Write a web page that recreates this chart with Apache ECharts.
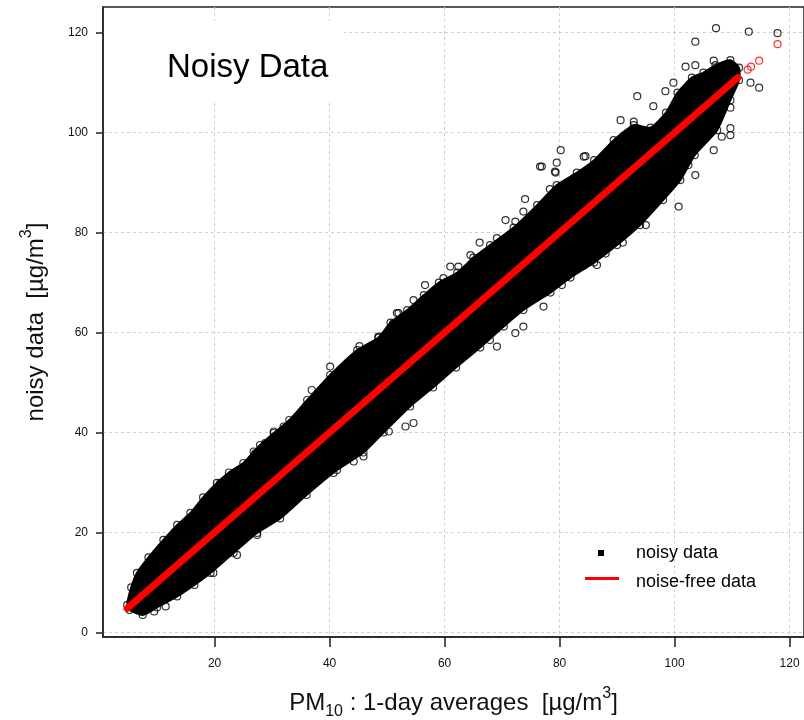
<!DOCTYPE html>
<html><head><meta charset="utf-8">
<script src="https://cdn.jsdelivr.net/npm/echarts@6/dist/echarts.min.js"></script>
<style>html,body{margin:0;padding:0;background:#fff}#c{width:804px;height:720px}</style>
</head><body><div id="c"></div>
<script>
// ---- data ----
const xTicks = [20, 40, 60, 80, 100, 120];
const yTicks = [0, 20, 40, 60, 80, 100, 120];

// outline of the solid, densely packed part of the noisy-data cloud
const cloudUpper = [[4.8,5.5],[5.5,9],[6.5,11.9],[8.5,15],[11.1,18.5],[13.5,21.5],[15.8,23.9],[18,27],[20.4,29.9],[22.5,32],[25,33.9],[27.9,37.5],[30.3,39.9],[33,42.5],[36.1,46.5],[40.1,51.5],[44.8,56.5],[48.5,59],[50.6,62],[53.5,64.5],[56.4,67.5],[59,70],[62.2,72],[65,75],[67.9,77.5],[72,81],[76.1,85.5],[79.5,89.5],[83,92],[86,94.5],[89.4,98.5],[92.9,101.5],[95.8,101],[98.5,104],[100.5,108],[103,111],[105,112],[107.1,113.5],[109.7,114.5],[111.2,113]];
const cloudLower = [[5.2,4.5],[7.5,3.5],[10,5],[13.5,7.2],[16.5,9.5],[19.3,11.9],[23.3,15.9],[27.4,19.9],[31.4,22.8],[36,27.5],[41.3,32.5],[45.9,36],[49.4,40],[54,45.2],[58,49],[62,53],[66.2,57],[70.3,61.2],[73.7,64.5],[78.4,68],[81.9,71],[86,74],[90,77.5],[94,81.5],[98,86.5],[101,90.5],[103.5,95.5],[107.4,100.5],[109.7,106.5],[111.2,110.5]];

// individual noisy points lying outside the solid cloud
const noisyOutliers = [[19.8,11.9],[23.9,15.5],[27.4,19.5],[21,29.9],[26.8,36.2],[28.8,37.9],[9.5,4.2],[11.5,5.2],
 [27.1,35.9],[30.3,40.2],[32,41.2],[36.9,48.5],[40.1,53.2],[43,53.2],[43.9,54.5],[45.2,57.3],[48.5,59.2],[51.1,61.9],[52,63.9],[54.6,66.5],
 [40.7,31.9],[44.2,34.2],[45.9,35.2],[50.3,40.2],[53.2,41.2],[54.6,41.9],
 [51.7,63.9],[56.6,69.5],[59.8,70.9],[61,73.2],[62.4,73.2],[64.5,75.5],[66.1,78],[69.1,78.9],[70.6,82.5],[72.3,82.2],[73.7,84.2],[74,86.7],[76.6,93.2],[79.5,94],[79.3,92],[78.3,88.7],
 [66.2,58.2],[67.9,58.5],[69.1,57.2],[72.3,59.9],[73.7,61.2],[77.2,65.2],[80.4,69.5],[81.3,71.2],
 [93.5,107.3],[96.3,105.3],[98.4,108.3],[99.8,110],[101.9,113.2],[103.6,113.5],[103.6,118.2],[106.8,114.4],[80.2,96.5],[84.2,95.2],[76.9,93.2],[79.2,92.2],[90.6,102.5],[92.9,102.2],[100.7,85.2],[103.6,91.5],[97.5,89.9],[99.3,90.9],[97.5,91.2],[90.6,87.2],[92,84.2],[88.8,83.9],
 [107.2,120.9],[112.9,120.2],[117.9,119.9],[113.2,110],[114.7,109],[109.7,105],[109.7,100.9],[109.7,99.5],[108.2,99.2],[106.8,96.5],[102.4,93.5],[84.5,95.3],
 [86.5,73.5],[88,75.8],[91,78],[95,81.5]];

// noise-free data: y equals x
const noiseFreeLine = [[4.8,4.8],[111,111]];
const noiseFreeOutliers = [[112.7,112.6],[113.3,113.2],[114.7,114.4],[117.9,117.7]];

const seriesNames = ['noisy data', 'noise-free data'];
const titleText = 'Noisy Data';

// ---- chart ----
const cloudPolygon = cloudUpper.concat(cloudLower.slice().reverse());
const FONT = 'Liberation Sans, Arial, sans-serif';
const chart = echarts.init(document.getElementById('c'), null, {renderer: 'canvas'});
const gridLine = {show: true, lineStyle: {color: '#cfcfcf', type: [3, 3], width: 1}};
chart.setOption({
  animation: false,
  backgroundColor: '#fff',
  title: {text: titleText, left: 167, top: 51, padding: 0,
    textStyle: {fontFamily: FONT, fontSize: 33, fontWeight: 'normal', color: '#000'}},
  graphic: [{type: 'rect', z: 1, shape: {x: 104, y: 21, width: 240, height: 79}, style: {fill: '#fff'}}],
  grid: {left: 103, top: 7, width: 701, height: 630, outerBoundsMode: 'none', containLabel: false,
    show: true, borderColor: '#222', borderWidth: 1.5, backgroundColor: 'transparent'},
  legend: [
    {data: [{name: seriesNames[0], icon: 'rect', itemStyle: {color: '#000'}}], left: 598, top: 544, padding: 0,
      itemWidth: 6, itemHeight: 6, selectedMode: false,
      textStyle: {fontFamily: FONT, fontSize: 18, color: '#000', padding: [0, 0, 0, 27]}},
    {data: [{name: seriesNames[1], icon: 'path://M0,0h34v3h-34zM0,10', itemStyle: {color: '#ff0000'}}], left: 585, top: 573, padding: 0,
      itemWidth: 34, itemHeight: 10, selectedMode: false,
      textStyle: {fontFamily: FONT, fontSize: 18, color: '#000', padding: [0, 0, 0, 12]}}
  ],
  xAxis: {type: 'value', min: 0.6, max: 122.5,
    axisLine: {show: true, onZero: false, lineStyle: {color: '#222', width: 1.5}},
    axisTick: {show: true, length: 10, customValues: xTicks, lineStyle: {color: '#222', width: 1.5}},
    axisLabel: {customValues: xTicks, margin: 21, fontFamily: FONT, fontSize: 12, color: '#111'},
    splitLine: gridLine,
    name: 'PM{sub|10} : 1-day averages  [µg/m{sup|3}]', nameLocation: 'middle', nameGap: 49,
    nameTextStyle: {fontFamily: FONT, fontSize: 24, color: '#111', lineHeight: 34,
      rich: {sub: {fontFamily: FONT, fontSize: 16, lineHeight: 18, verticalAlign: 'bottom', color: '#111'},
             sup: {fontFamily: FONT, fontSize: 16, lineHeight: 18, verticalAlign: 'top', color: '#111'}}}
  },
  yAxis: {type: 'value', min: -0.92, max: 125.14,
    axisLine: {show: true, onZero: false, lineStyle: {color: '#222', width: 1.5}},
    axisTick: {show: true, length: 7, customValues: yTicks, lineStyle: {color: '#222', width: 1.5}},
    axisLabel: {customValues: yTicks, margin: 15, fontFamily: FONT, fontSize: 12, color: '#111'},
    splitLine: gridLine,
    name: 'noisy data  [µg/m{sup|3}]', nameLocation: 'middle', nameGap: 50,
    nameTextStyle: {fontFamily: FONT, fontSize: 24, color: '#111', lineHeight: 34,
      rich: {sup: {fontFamily: FONT, fontSize: 16, lineHeight: 18, verticalAlign: 'top', color: '#111'}}}
  },
  series: [
    {name: seriesNames[0], type: 'custom', data: cloudPolygon, itemStyle: {color: '#000'}, z: 2,
      renderItem: function (params, api) {
        if (params.dataIndex !== 0) return null;
        const pts = cloudPolygon.map(function (p) { return api.coord(p); });
        return {type: 'polygon', shape: {points: pts, smooth: 0.2}, style: {fill: '#000', stroke: '#000', lineWidth: 2}};
      }},
    {name: seriesNames[0], type: 'scatter', data: cloudUpper.concat(cloudLower, noisyOutliers), symbol: 'circle', symbolSize: 7, z: 3,
      itemStyle: {color: 'rgba(0,0,0,0)', borderColor: '#000', borderWidth: 1.2}},
    {name: seriesNames[1], type: 'line', data: noiseFreeLine, showSymbol: false, z: 4,
      lineStyle: {color: '#ff0000', width: 7, cap: 'round'}, itemStyle: {color: '#ff0000'}},
    {name: seriesNames[1], type: 'scatter', data: noiseFreeOutliers, symbol: 'circle', symbolSize: 7, z: 4,
      itemStyle: {color: 'rgba(0,0,0,0)', borderColor: '#ff0000', borderWidth: 1.2}}
  ]
});
</script></body></html>
